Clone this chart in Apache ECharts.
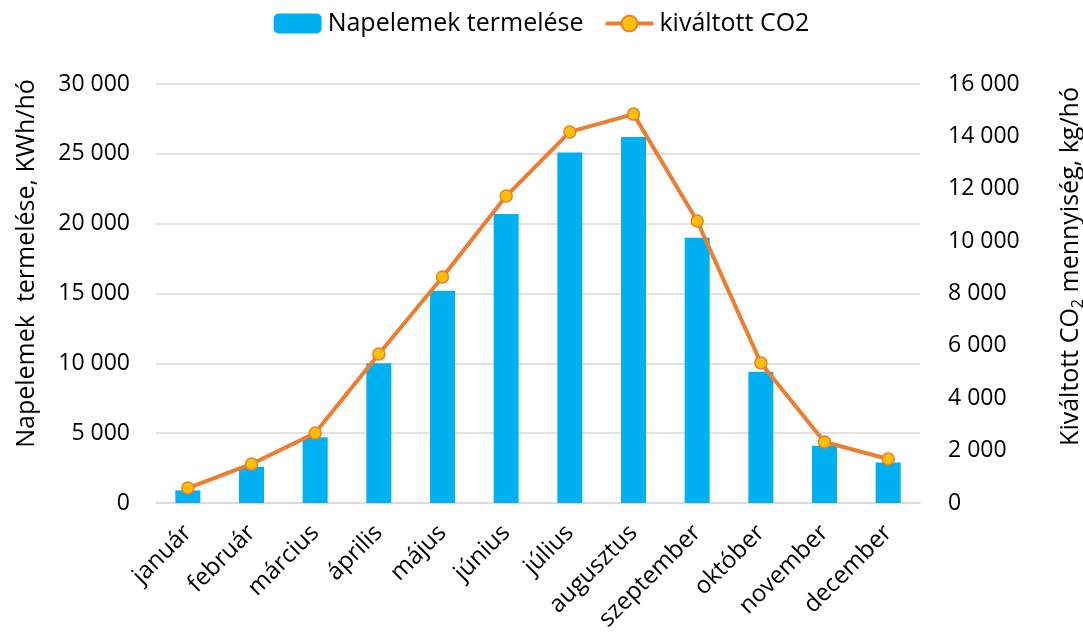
<!DOCTYPE html>
<html>
<head>
<meta charset="utf-8">
<script src="https://cdn.jsdelivr.net/npm/echarts@6/dist/echarts.min.js"></script>
<style>
  html, body { margin: 0; padding: 0; background: #fff; }
  #chart { width: 1083px; height: 635px; }
</style>
</head>
<body>
<div id="chart"></div>
<script>
// havi adatok
var honapok = ['január', 'február', 'március', 'április', 'május', 'június',
  'július', 'augusztus', 'szeptember', 'október', 'november', 'december'];
var termeles = [900, 2600, 4700, 10000, 15200, 20700, 25100, 26200, 19000, 9400, 4100, 2900];
var co2 = [570, 1490, 2670, 5690, 8630, 11720, 14170, 14850, 10770, 5350, 2330, 1680];

var bal = { min: 0, max: 30000, interval: 5000 };
var jobb = { min: 0, max: 16000, interval: 2000 };

var betu = 'Open Sans';

function ezres(v) {
  return String(v).replace(/\B(?=(\d{3})+(?!\d))/g, ' ');
}

var myChart = echarts.init(document.getElementById('chart'));
myChart.setOption({
  animation: false,
  textStyle: { fontFamily: betu, color: '#000' },
  legend: {
    top: 6,
    left: 'center',
    itemWidth: 48,
    itemHeight: 20,
    itemGap: 20,
    textStyle: { fontSize: 25, color: '#000', fontFamily: betu, padding: [0, 0, 0, 1] },
    data: [
      'Napelemek termelése',
      { name: 'kiváltott CO2', lineStyle: { width: 4 } }
    ]
  },
  grid: { left: 156, right: 163, top: 84, bottom: 132, containLabel: false, outerBoundsMode: 'none' },
  xAxis: {
    type: 'category',
    data: honapok,
    axisLine: { lineStyle: { color: '#d9d9d9', width: 1.5 } },
    axisTick: { show: false },
    axisLabel: { rotate: 45, fontSize: 24, color: '#000', margin: 26, interval: 0 }
  },
  yAxis: [{
    type: 'value',
    min: bal.min, max: bal.max, interval: bal.interval,
    name: 'Napelemek  termelése, KWh/hó',
    nameLocation: 'middle',
    nameRotate: 90,
    nameGap: 117,
    nameTextStyle: { fontSize: 25, color: '#000', padding: [0, 0, 0, 60] },
    axisLine: { show: false },
    axisTick: { show: false },
    axisLabel: { fontSize: 23, color: '#000', margin: 26, formatter: ezres },
    splitLine: { lineStyle: { color: '#d9d9d9', width: 1.5 } }
  }, {
    type: 'value',
    min: jobb.min, max: jobb.max, interval: jobb.interval,
    name: '{a|Kiváltott CO}{s|2}{a| mennyiség, kg/hó}',
    nameLocation: 'middle',
    nameRotate: 90,
    nameGap: 135,
    nameTextStyle: {
      padding: [0, 0, 0, 54],
      rich: {
        a: { fontSize: 25, color: '#000', fontFamily: betu, lineHeight: 32 },
        s: { fontSize: 16, color: '#000', fontFamily: betu, lineHeight: 32, padding: [14, 0, 0, 0] }
      }
    },
    axisLine: { show: false },
    axisTick: { show: false },
    axisLabel: { fontSize: 23, color: '#000', margin: 28, formatter: ezres },
    splitLine: { show: false }
  }],
  series: [{
    name: 'Napelemek termelése',
    type: 'bar',
    data: termeles,
    barWidth: 25,
    itemStyle: { color: '#00b0f0' }
  }, {
    name: 'kiváltott CO2',
    type: 'line',
    yAxisIndex: 1,
    data: co2,
    symbol: 'circle',
    symbolSize: 12,
    lineStyle: { color: '#ed7d31', width: 4 },
    itemStyle: { color: '#ffc000', borderColor: '#ed7d31', borderWidth: 1.5 }
  }]
});
</script>
</body>
</html>
